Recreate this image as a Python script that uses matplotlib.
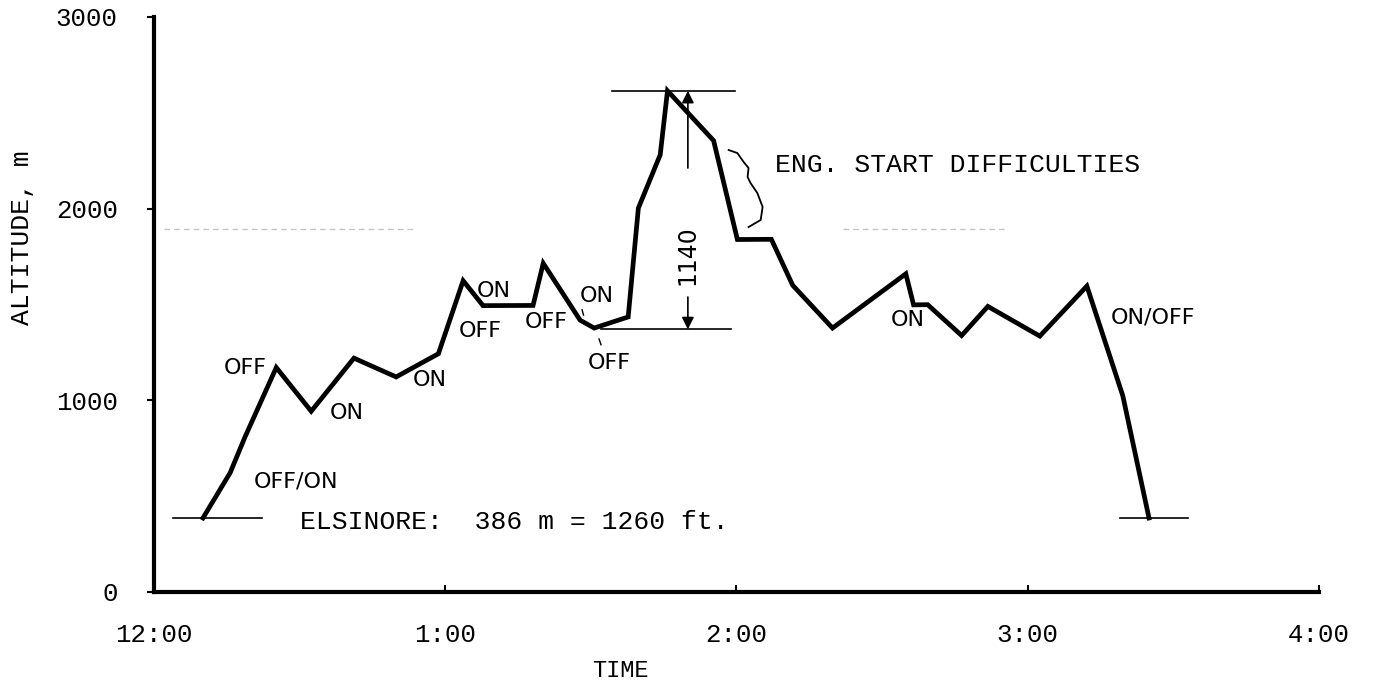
#!/usr/bin/env python3
"""
Glider flight altitude trace (Elsinore)
Redraw of the altitude vs. time record with engine ON/OFF notes
"""

import matplotlib
matplotlib.use("Agg")
import matplotlib.pyplot as plt

# Flight trace: minutes after 12:00, altitude in m
time_min = [10.1, 15.7, 18.8, 25.2, 32.4, 41.2, 49.9, 58.6, 63.7, 67.8, 78.1,
            80.2, 87.8, 90.7, 97.7, 99.8, 104.3, 105.8, 115.3, 120.2, 127.2,
            131.6, 139.8, 154.9, 156.5, 159.4, 166.4, 171.8, 182.5, 192.2,
            199.6, 205.0]
altitude = [386, 622, 811, 1171, 943, 1220, 1122, 1243, 1624, 1494, 1495,
            1715, 1418, 1377, 1435, 2003, 2281, 2615, 2355, 1839, 1840,
            1600, 1377, 1660, 1498, 1499, 1338, 1490, 1335, 1596,
            1024, 386]

# Field elevation and the two ground marks (takeoff / landing)
field_alt = 386
takeoff_span = [3.9, 22.3]
landing_span = [199.0, 213.0]

# Climb dimension (peak vs. low point before the climb)
climb_top = 2615
climb_bottom = 1370
climb_top_span = [94.4, 119.8]
climb_bottom_span = [92.0, 118.8]
climb_label = "1140"

# Engine notes (hand lettered on the original)
note_text = ["OFF", "ON", "ON", "OFF/ON", "ON", "OFF", "OFF", "ON", "OFF",
             "ON", "ON/OFF"]
note_time = [18.9, 39.8, 56.9, 29.3, 70.1, 67.2, 80.8, 91.3, 93.8, 155.3,
             205.8]
note_alt = [1169, 934, 1106, 579, 1570, 1362, 1409, 1545, 1195, 1419, 1430]

# Brace next to the engine start remark
brace_time = [118.4, 120.2, 121.5, 122.5, 122.3, 122.9, 124.3, 125.4, 125.0, 122.5]
brace_alt = [2306, 2290, 2243, 2212, 2165, 2134, 2082, 2009, 1941, 1904]

hour_ticks = [0, 60, 120, 180, 240]
hour_labels = ["12:00", "1:00", "2:00", "3:00", "4:00"]
alt_ticks = [0, 1000, 2000, 3000]

TYPE_FONT = "Liberation Mono"
HAND_FONT = "DejaVu Sans"


def main():
    fig = plt.figure(figsize=(13.77, 6.85), dpi=100)
    ax = fig.add_axes([0.1118, 0.1358, 0.8460, 0.8394])

    # faint fold line from the scan
    ax.plot([2, 54], [1895, 1895], color="#c4c4c4", lw=1, ls=(0, (4, 3)))
    ax.plot([142, 176], [1895, 1895], color="#c4c4c4", lw=1, ls=(0, (4, 3)))

    # ground marks
    ax.plot(takeoff_span, [field_alt] * 2, color="black", lw=1.2)
    ax.plot(landing_span, [field_alt] * 2, color="black", lw=1.2)

    # flight trace
    ax.plot(time_min, altitude, color="black", lw=3.4, solid_joinstyle="miter")

    # climb dimension
    ax.plot(climb_top_span, [climb_top] * 2, color="black", lw=1.2)
    ax.plot(climb_bottom_span, [climb_bottom] * 2, color="black", lw=1.2)
    mid_t = 110.0
    ax.annotate("", xy=(mid_t, climb_top), xytext=(mid_t, 2212),
                arrowprops=dict(arrowstyle="-|>", color="black", lw=1.2,
                                mutation_scale=18, shrinkA=0, shrinkB=0))
    ax.annotate("", xy=(mid_t, climb_bottom), xytext=(mid_t, 1539),
                arrowprops=dict(arrowstyle="-|>", color="black", lw=1.2,
                                mutation_scale=18, shrinkA=0, shrinkB=0))
    ax.text(mid_t, 1758, climb_label, rotation=90, ha="center", va="center",
            family=HAND_FONT, fontsize=17)

    # brace + remark
    ax.plot(brace_time, brace_alt, color="black", lw=1.3)
    ax.text(128.0, 2228, "ENG. START DIFFICULTIES", ha="left", va="center",
            family=TYPE_FONT, fontsize=19)
    ax.text(30.1, 365, "ELSINORE:  386 m = 1260 ft.", ha="left", va="center",
            family=TYPE_FONT, fontsize=19)

    # engine notes
    for txt, t, a in zip(note_text, note_time, note_alt):
        ax.text(t, a, txt, ha="center", va="center", family=HAND_FONT,
                fontsize=16)
    # little leader strokes near the notes at ~1:30
    ax.plot([88.2, 88.5], [1472, 1445], color="black", lw=1)
    ax.plot([91.7, 92.1], [1320, 1290], color="black", lw=1)

    # axes styling
    ax.set_xlim(0, 240)
    ax.set_ylim(0, 3000)
    for side in ["top", "right"]:
        ax.spines[side].set_visible(False)
    for side in ["left", "bottom"]:
        ax.spines[side].set_linewidth(3)

    ax.set_xticks(hour_ticks)
    ax.set_xticklabels(hour_labels, family=TYPE_FONT, fontsize=18.5)
    ax.set_yticks(alt_ticks)
    ax.set_yticklabels([str(v) for v in alt_ticks], family=TYPE_FONT,
                       fontsize=18.5)
    ax.tick_params(axis="x", direction="in", length=5, width=1.5, pad=22)
    ax.tick_params(axis="y", direction="out", length=5, width=1.5, pad=21)

    ax.text(-0.113, 0.617, "ALTITUDE, m", transform=ax.transAxes,
            rotation=90, ha="center", va="center", family=TYPE_FONT,
            fontsize=19)
    ax.text(0.40, -0.136, "TIME", transform=ax.transAxes, ha="center",
            va="center", family=TYPE_FONT, fontsize=17)

    fig.savefig("out.png", dpi=100)
    plt.close(fig)


if __name__ == "__main__":
    main()
